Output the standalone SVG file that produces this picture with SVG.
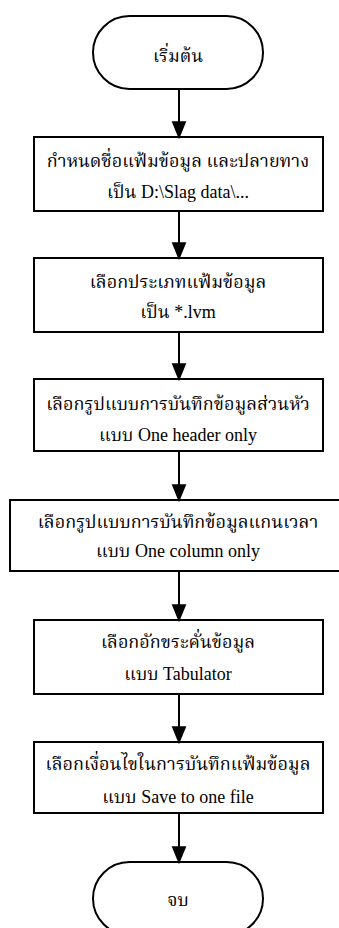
<svg xmlns="http://www.w3.org/2000/svg" width="339" height="928" viewBox="0 0 339 928">
<style>
.n{fill:#fff;stroke:#000;stroke-width:2}
.t{font-family:"Noto Serif Thai","Liberation Serif",serif;font-size:18px;fill:#000;text-anchor:middle}
.l{font-family:"Liberation Serif","Times New Roman",serif}
.c{stroke:#000;stroke-width:2;fill:none;marker-end:url(#ah)}
</style>
<defs>
<marker id="ah" markerUnits="userSpaceOnUse" markerWidth="18" markerHeight="22" refX="18" refY="9" orient="auto" viewBox="0 0 22 18">
<path d="M0,0 L22,9 L0,18 Z" fill="#000"/>
</marker>
</defs>
<g id="start"><rect class="n" x="93" y="16" width="170" height="73" rx="36.5"/><text class="t" x="178" y="62">เริ่มต้น</text></g>
<g id="box1"><rect class="n" x="34" y="137" width="289" height="74"/><text class="t" x="178" y="167">กำหนดชื่อแฟ้มข้อมูล และปลายทาง</text><text class="t" x="178" y="198">เป็น <tspan class="l">D:\Slag data\...</tspan></text></g>
<g id="box2"><rect class="n" x="34" y="258" width="289" height="74"/><text class="t" x="178" y="288">เลือกประเภทแฟ้มข้อมูล</text><text class="t" x="178" y="318">เป็น <tspan class="l">*.lvm</tspan></text></g>
<g id="box3"><rect class="n" x="34" y="379" width="289" height="72"/><text class="t" x="178" y="410">เลือกรูปแบบการบันทึกข้อมูลส่วนหัว</text><text class="t" x="178" y="441">แบบ <tspan class="l">One header only</tspan></text></g>
<g id="box4"><rect class="n" x="10" y="500" width="330" height="71"/><text class="t" x="178" y="528">เลือกรูปแบบการบันทึกข้อมูลแกนเวลา</text><text class="t" x="178" y="557">แบบ <tspan class="l">One column only</tspan></text></g>
<g id="box5"><rect class="n" x="34" y="620" width="289" height="74"/><text class="t" x="178" y="648">เลือกอักขระคั่นข้อมูล</text><text class="t" x="178" y="680">แบบ <tspan class="l">Tabulator</tspan></text></g>
<g id="box6"><rect class="n" x="34" y="742" width="289" height="71"/><text class="t" x="178" y="770">เลือกเงื่อนไขในการบันทึกแฟ้มข้อมูล</text><text class="t" x="178" y="803">แบบ <tspan class="l">Save to one file</tspan></text></g>
<g id="end"><rect class="n" x="93" y="862" width="170" height="73" rx="36.5"/><text class="t" x="178" y="906">จบ</text></g>
<g id="connectors">
<line class="c" x1="179" y1="89" x2="179" y2="136"/>
<line class="c" x1="179" y1="211" x2="179" y2="257"/>
<line class="c" x1="179" y1="332" x2="179" y2="378"/>
<line class="c" x1="179" y1="451" x2="179" y2="499"/>
<line class="c" x1="179" y1="571" x2="179" y2="619"/>
<line class="c" x1="179" y1="694" x2="179" y2="741"/>
<line class="c" x1="179" y1="813" x2="179" y2="861"/>
</g>
</svg>
